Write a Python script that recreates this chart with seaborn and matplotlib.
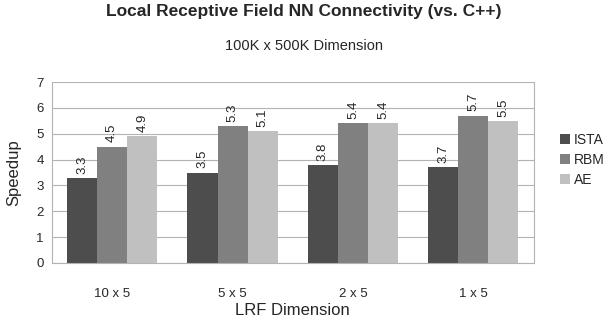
import numpy as np
import pandas as pd
import matplotlib
matplotlib.use("Agg")
import matplotlib.pyplot as plt
import seaborn as sns

categories = ["10 x 5", "5 x 5", "2 x 5", "1 x 5"]
ista = [3.3, 3.5, 3.8, 3.7]
rbm = [4.5, 5.3, 5.4, 5.7]
ae = [4.9, 5.1, 5.4, 5.5]
series = ["ISTA", "RBM", "AE"]
colors = ["#4d4d4d", "#808080", "#c0c0c0"]

df = pd.DataFrame({
    "dim": categories * 3,
    "speedup": ista + rbm + ae,
    "method": [s for s in series for _ in categories],
})

sns.set_style("white")
plt.rcParams["font.family"] = ["Liberation Sans", "DejaVu Sans"]

fig = plt.figure(figsize=(6.08, 3.18), dpi=100)
ax = fig.add_axes([0.0855, 0.173, 0.792, 0.569])

sns.barplot(data=df, x="dim", y="speedup", hue="method", palette=colors,
            width=0.75, saturation=1, linewidth=0, ax=ax, zorder=2)

for c in ax.containers:
    ax.bar_label(c, fmt="%.1f", rotation=90, padding=3, fontsize=9.5)

ax.set_ylim(0, 7)
ax.set_yticks(range(8))
ax.set_xlim(-0.5, 3.5)
ax.grid(axis="y", color="#b3b3b3", linewidth=0.8, zorder=0)
ax.set_axisbelow(True)
for s in ax.spines.values():
    s.set_color("#b3b3b3")
    s.set_linewidth(0.8)
ax.spines["top"].set_visible(False)

ax.set_xticks(np.arange(-0.5, 4, 1), minor=True)
ax.tick_params(axis="x", which="major", length=0, labelsize=9.5, pad=18)
ax.tick_params(axis="x", which="minor", length=5, color="#b3b3b3", width=0.8)
ax.tick_params(axis="y", length=4, color="#b3b3b3", width=0.8, labelsize=9.5, pad=2)

ax.set_xlabel("LRF Dimension", fontsize=12, labelpad=2)
ax.set_ylabel("Speedup", fontsize=12, labelpad=11)

ax.legend(loc="center left", bbox_to_anchor=(1.03, 0.57), frameon=False,
          fontsize=10, handlelength=0.7, handleheight=0.7, handletextpad=0.25,
          labelspacing=0.45)

fig.text(0.5, 0.963, "Local Receptive Field NN Connectivity (vs. C++)",
         ha="center", va="center", fontsize=12.5, fontweight="bold")
fig.text(0.5, 0.855, "100K x 500K Dimension", ha="center", va="center",
         fontsize=10.5)

fig.savefig("out.png", dpi=100)
